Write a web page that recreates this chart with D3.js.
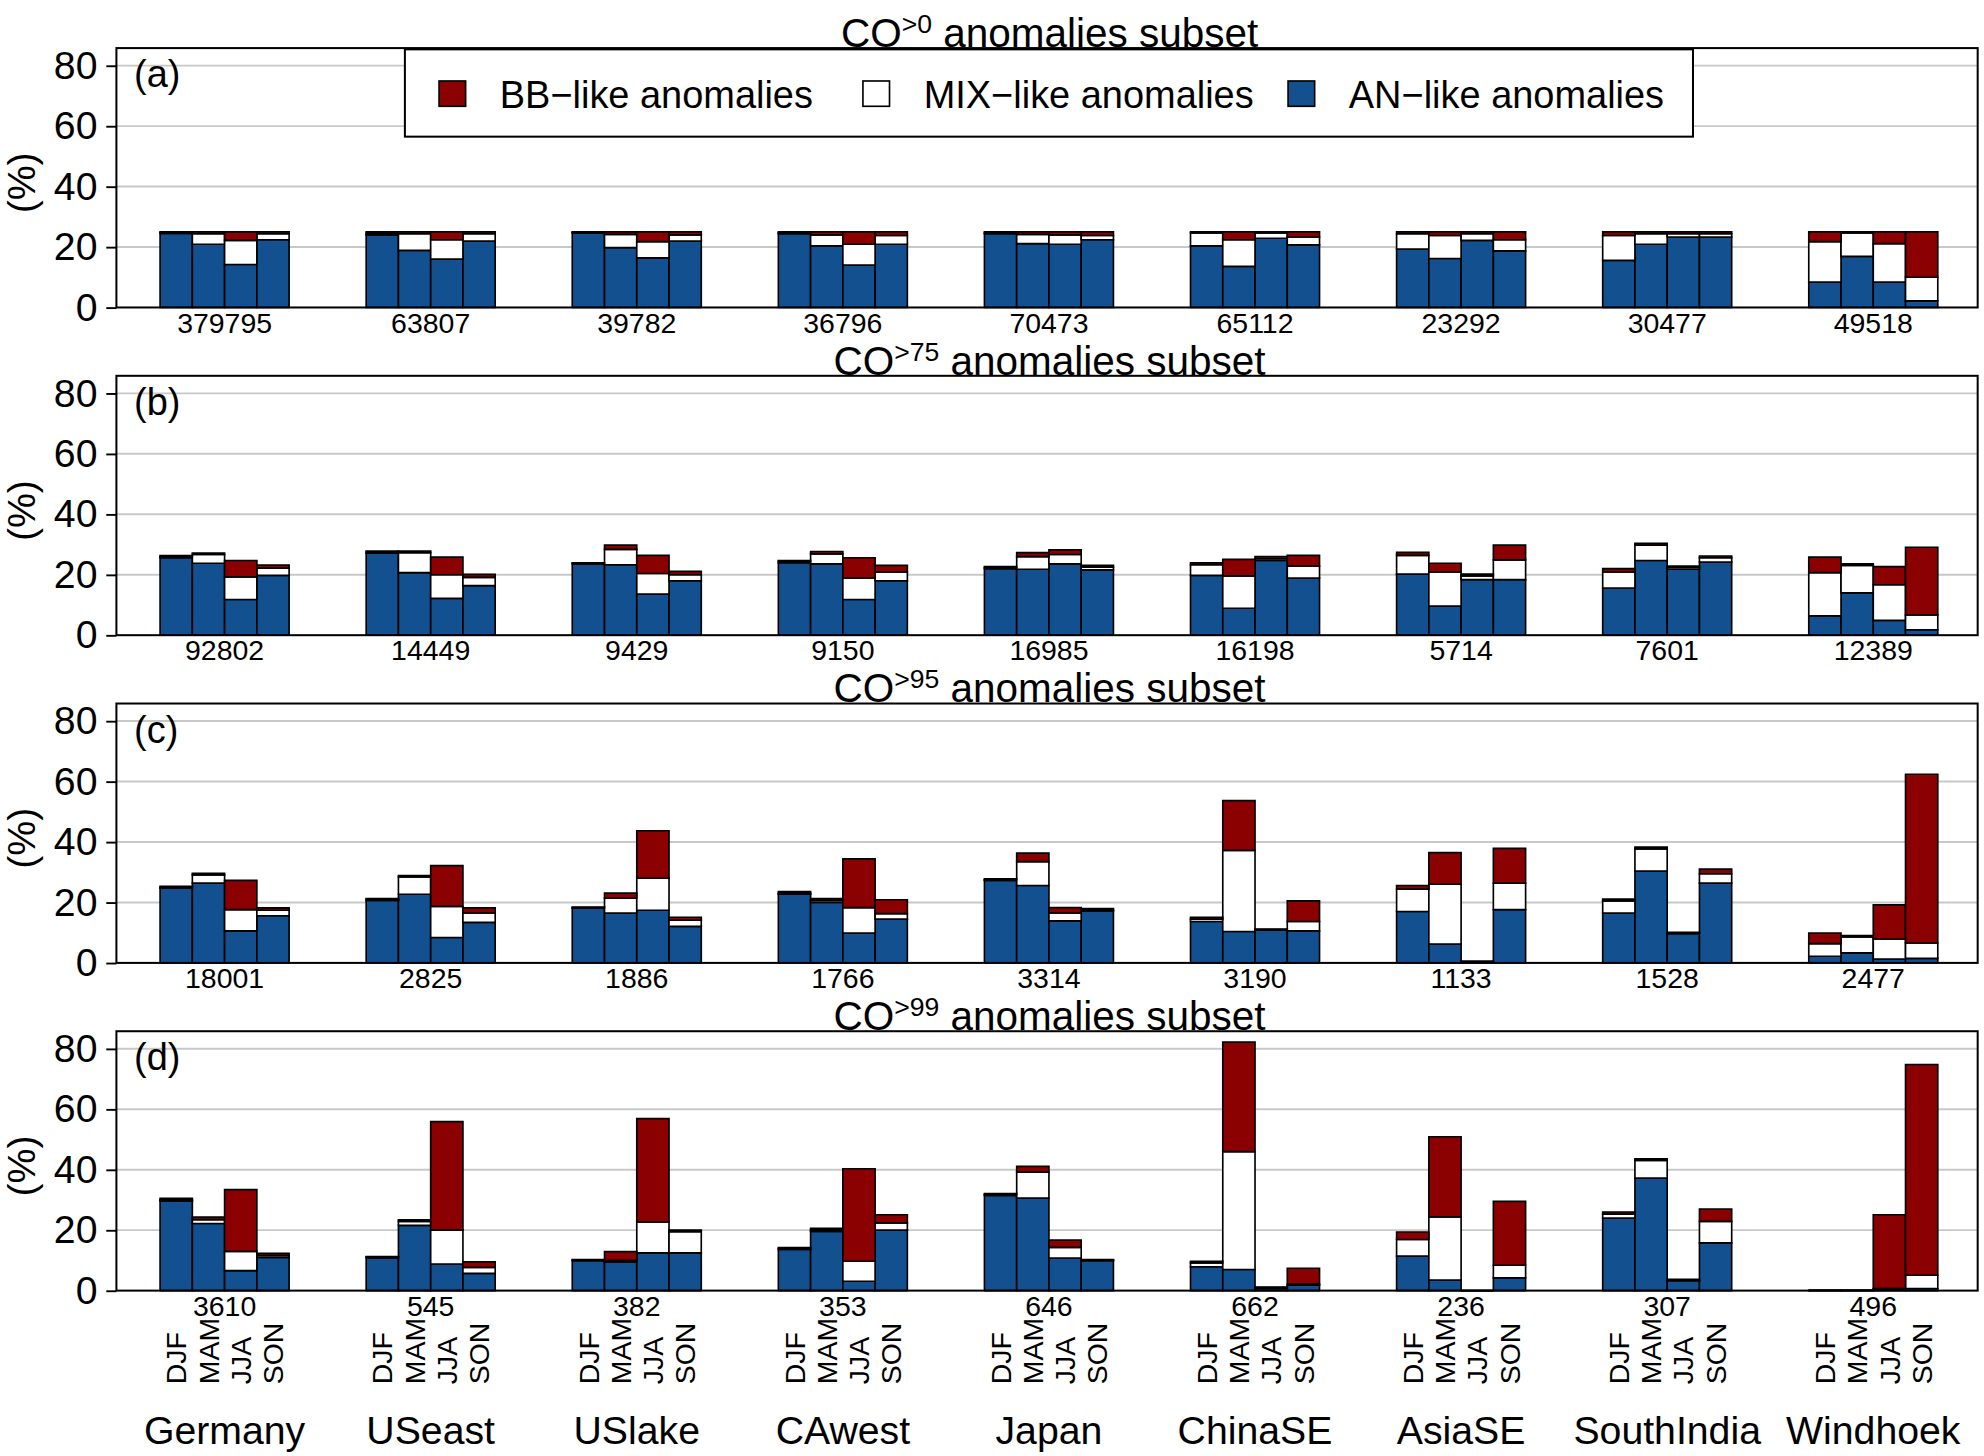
<!DOCTYPE html>
<html>
<head>
<meta charset="utf-8">
<script src="https://cdn.jsdelivr.net/npm/d3@7"></script>
<style>
  body { margin: 0; background: #fff; }
  svg { display: block; font-family: "Liberation Sans", Arial, sans-serif; }
</style>
</head>
<body>
<div id="chart"></div>
<script>
const regions = ["Germany", "USeast", "USlake", "CAwest", "Japan", "ChinaSE", "AsiaSE", "SouthIndia", "Windhoek"];
const seasons = ["DJF", "MAM", "JJA", "SON"];
const panelLetters = ["(a)", "(b)", "(c)", "(d)"];
const thresholds = [">0", ">75", ">95", ">99"];
const yTicks = [0, 20, 40, 60, 80];
const legendLabels = ["BB\u2212like anomalies", "MIX\u2212like anomalies", "AN\u2212like anomalies"];

// number of anomalies per region, one list per panel
const countsA = [379795, 63807, 39782, 36796, 70473, 65112, 23292, 30477, 49518];
const countsB = [92802, 14449, 9429, 9150, 16985, 16198, 5714, 7601, 12389];
const countsC = [18001, 2825, 1886, 1766, 3314, 3190, 1133, 1528, 2477];
const countsD = [3610, 545, 382, 353, 646, 662, 236, 307, 496];

// % per season (DJF, MAM, JJA, SON) for each region
const anA = [[24.5, 20.9, 14.2, 22.4], [24, 18.9, 16, 22], [24.7, 19.8, 16.4, 22], [24.4, 20.4, 14, 20.9], [24.4, 21.1, 20.9, 22.4], [20.4, 13.6, 22.9, 20.7], [19.3, 16.2, 22.2, 18.7], [15.6, 20.9, 23.3, 23.3], [8.4, 16.9, 8.4, 2.2]];
const mixA = [[0.3, 3.5, 8, 2], [0.5, 5.5, 6.4, 2.4], [0.2, 4.4, 5.4, 2], [0.3, 3.6, 6.9, 2.9], [0.3, 3.1, 3.1, 1.4], [4.3, 8.8, 1.8, 2.6], [5.1, 7.6, 2.2, 3.7], [8.2, 3.5, 1.1, 1.1], [13.4, 7.8, 12.7, 7.8]];
const bbA = [[0.2, 0.6, 2.8, 0.6], [0.5, 0.6, 2.6, 0.6], [0.1, 0.8, 3.2, 1], [0.3, 1, 4.1, 1.2], [0.3, 0.8, 1, 1.2], [0.3, 2.6, 0.3, 1.7], [0.6, 1.2, 0.6, 2.6], [1.2, 0.6, 0.6, 0.6], [3.2, 0.3, 3.9, 15]];

const anB = [[25.6, 23.8, 11.8, 19.8], [27.1, 20.7, 12.2, 16.4], [23.6, 23.3, 13.6, 18], [24, 23.6, 11.8, 18], [22, 21.8, 23.6, 21.6], [19.8, 8.9, 24.7, 18.9], [20.2, 9.6, 18.4, 18.4], [15.6, 24.7, 21.8, 24.2], [6.4, 14, 4.9, 1.8]];
const mixB = [[0.4, 2.9, 7.5, 2.4], [0.4, 6.6, 7.8, 2.7], [0.2, 5.1, 6.8, 2], [0.4, 3.3, 7.1, 2.9], [0.4, 4.2, 3.1, 0.9], [3.5, 10.7, 0.6, 4], [6.2, 11.3, 1.2, 6.5], [5.3, 5.1, 0.6, 1.4], [14.3, 9.1, 11.8, 4.9]];
const bbB = [[0.3, 0.5, 5.4, 1], [0.3, 0.5, 5.8, 1], [0.1, 1.4, 6, 1.1], [0.3, 0.8, 6.7, 2.2], [0.3, 1.3, 1.5, 0.6], [0.6, 5.5, 0.7, 3.5], [1, 2.9, 0.6, 4.9], [1.1, 0.6, 0.5, 0.6], [5.1, 0.5, 6, 22.4]];

const anC = [[24.7, 26.4, 10.6, 15.6], [20.7, 22.7, 8.4, 13.4], [18.1, 16.5, 17.4, 12.1], [22.7, 20, 9.9, 14.5], [27.3, 25.6, 13.9, 17.2], [13.7, 10.4, 10.8, 10.6], [17, 6.2, 0.3, 17.6], [16.5, 30.4, 9.7, 26.4], [2.2, 3.3, 1.3, 1.5]];
const mixC = [[0.3, 2.7, 7, 1.8], [0.3, 5.7, 10.3, 3.1], [0.2, 4.9, 10.6, 2], [0.3, 0.7, 8.4, 1.8], [0.2, 7.9, 2.6, 0.3], [0.8, 26.8, 0.2, 3.1], [7.4, 19.8, 0.2, 8.8], [4, 7.3, 0.2, 3.1], [4.2, 5.3, 6.6, 5.1]];
const bbC = [[0.3, 0.5, 9.7, 0.8], [0.3, 0.5, 13.5, 1.7], [0.2, 1.7, 15.7, 1], [0.6, 0.6, 16.1, 4.6], [0.3, 2.8, 1.8, 0.5], [0.6, 16.5, 0.2, 6.8], [1.2, 10.5, 0, 11.5], [0.6, 0.6, 0.2, 1.5], [3.5, 0.4, 11.3, 55.8]];

const anD = [[29.7, 22.2, 6.6, 11], [10.8, 21.6, 8.8, 5.7], [9.9, 9.5, 12.5, 12.5], [13.6, 19.6, 3.1, 20], [31.5, 30.6, 10.8, 9.9], [7.9, 7, 0.7, 1.8], [11.4, 3.5, 0, 4.2], [24, 37.2, 3.3, 15.8], [0.1, 0.1, 0.4, 0.7]];
const mixD = [[0.3, 1.3, 6.4, 0.6], [0.3, 1.3, 11.2, 2], [0.2, 0.5, 10.2, 7], [0.3, 0.5, 6.6, 2.4], [0.3, 8.6, 3.5, 0.2], [1.3, 39, 0.3, 0.4], [5.5, 20.9, 0, 4.2], [1.3, 5.9, 0.2, 7.1], [0, 0, 0.3, 4.4]];
const bbD = [[0.5, 0.8, 20.4, 0.7], [0.2, 0.5, 35.9, 1.8], [0.2, 2.9, 34.2, 0.5], [0.3, 0.5, 30.6, 2.7], [0.3, 1.9, 2.4, 0.2], [0.5, 36.2, 0.2, 5.2], [2.5, 26.5, 0, 21.1], [0.7, 0.5, 0.2, 4.1], [0, 0, 24.4, 69.7]];

const panels = [
  { counts: countsA, an: anA, mix: mixA, bb: bbA },
  { counts: countsB, an: anB, mix: mixB, bb: bbB },
  { counts: countsC, an: anC, mix: mixC, bb: bbC },
  { counts: countsD, an: anD, mix: mixD, bb: bbD }
];

// drawing space (stretched onto the 1984x1456 page)
const W = 1568, H = 1150.7;
const L = 92, R = 1563;
const top0 = 38, panelStep = 259, panelH = 205;

const svg = d3.select("#chart").append("svg")
  .attr("width", 1984)
  .attr("height", 1456)
  .attr("viewBox", "0 0 " + W + " " + H);

const x0 = d3.scaleBand().domain(regions).range([L, R + 3]).paddingInner(0.374).paddingOuter(0.212);
const x1 = d3.scaleBand().domain(seasons).range([0, x0.bandwidth()]);
const colour = d3.scaleOrdinal().domain(["bb", "mix", "an"]).range(["#8b0000", "#ffffff", "#13508f"]);
const stack = d3.stack().keys(["an", "mix", "bb"]);

panels.forEach(function(p, i) {
  const top = top0 + i * panelStep;
  const y = d3.scaleLinear().domain([0, 85.8]).range([top + panelH, top]);
  const g = svg.append("g");

  g.selectAll(".grid")
    .data(yTicks.slice(1))
    .enter()
    .append("line")
    .attr("x1", L).attr("x2", R)
    .attr("y1", d => y(d)).attr("y2", d => y(d))
    .attr("stroke", "#c8c8c8")
    .attr("stroke-width", 1.5);

  const rows = [];
  regions.forEach(function(r, ri) {
    seasons.forEach(function(s, si) {
      rows.push({ region: r, season: s, an: p.an[ri][si], mix: p.mix[ri][si], bb: p.bb[ri][si] });
    });
  });

  g.selectAll(".layer")
    .data(stack(rows))
    .enter()
    .append("g")
    .attr("fill", d => colour(d.key))
    .selectAll("path")
    .data(d => d)
    .enter()
    .append("path")
    .attr("d", function(d) {
      const xx = x0(d.data.region) + x1(d.data.season);
      return "M" + xx + "," + y(d[0]) + "H" + (xx + x1.bandwidth()) + "V" + y(d[1]) + "H" + xx + "Z";
    })
    .attr("stroke", "#000")
    .attr("stroke-width", 1.3);

  // frame
  g.append("rect")
    .attr("x", L).attr("y", top)
    .attr("width", R - L).attr("height", panelH)
    .attr("fill", "none")
    .attr("stroke", "#000")
    .attr("stroke-width", 1.6);

  const axis = g.append("g")
    .attr("transform", "translate(" + L + ",0)")
    .call(d3.axisLeft(y).tickValues(yTicks).tickSize(8).tickPadding(7));
  axis.select(".domain").remove();
  axis.attr("font-size", 31).attr("font-family", null);
  axis.selectAll("line").attr("stroke-width", 1.5);

  g.append("text")
    .attr("transform", "translate(28," + (top + panelH / 2 + 4) + ") rotate(-90)")
    .attr("text-anchor", "middle")
    .attr("font-size", 31)
    .text("(%)");

  g.append("text")
    .attr("x", 106).attr("y", top + 31)
    .attr("font-size", 30)
    .text(panelLetters[i]);

  const title = g.append("text")
    .attr("x", (L + R) / 2 + 2).attr("y", top - 1)
    .attr("text-anchor", "middle")
    .attr("font-size", 32);
  title.append("tspan").text("CO");
  title.append("tspan").attr("dy", -11).attr("font-size", 21).text(thresholds[i]);
  title.append("tspan").attr("dy", 11).text(" anomalies subset");

  g.selectAll(".count")
    .data(p.counts)
    .enter()
    .append("text")
    .attr("x", (d, k) => x0(regions[k]) + x0.bandwidth() / 2)
    .attr("y", top + panelH + 20)
    .attr("text-anchor", "middle")
    .attr("font-size", 22.5)
    .text(d => d);
});

// legend in panel (a)
const leg = svg.append("g");
leg.append("rect")
  .attr("x", 320).attr("y", top0 + 1)
  .attr("width", 1018).attr("height", 69)
  .attr("fill", "#fff")
  .attr("stroke", "#000")
  .attr("stroke-width", 1.6);
const legX = [347, 682, 1018];
const legKeys = ["bb", "mix", "an"];
legKeys.forEach(function(k, j) {
  leg.append("rect")
    .attr("x", legX[j]).attr("y", 64)
    .attr("width", 21).attr("height", 20)
    .attr("fill", colour(k))
    .attr("stroke", "#000")
    .attr("stroke-width", 1.3);
  leg.append("text")
    .attr("x", legX[j] + 48).attr("y", 85)
    .attr("font-size", 30)
    .text(legendLabels[j]);
});

// season and region labels under the last panel
const bottom = top0 + 3 * panelStep + panelH;
const lab = svg.append("g");
regions.forEach(function(r) {
  seasons.forEach(function(s) {
    const cx = x0(r) + x1(s) + x1.bandwidth() / 2;
    lab.append("text")
      .attr("transform", "translate(" + (cx + 8) + "," + (bottom + 74) + ") rotate(-90)")
      .attr("font-size", 22.5)
      .text(s);
  });
  lab.append("text")
    .attr("x", x0(r) + x0.bandwidth() / 2)
    .attr("y", bottom + 121)
    .attr("text-anchor", "middle")
    .attr("font-size", 31)
    .text(r);
});
</script>
</body>
</html>
